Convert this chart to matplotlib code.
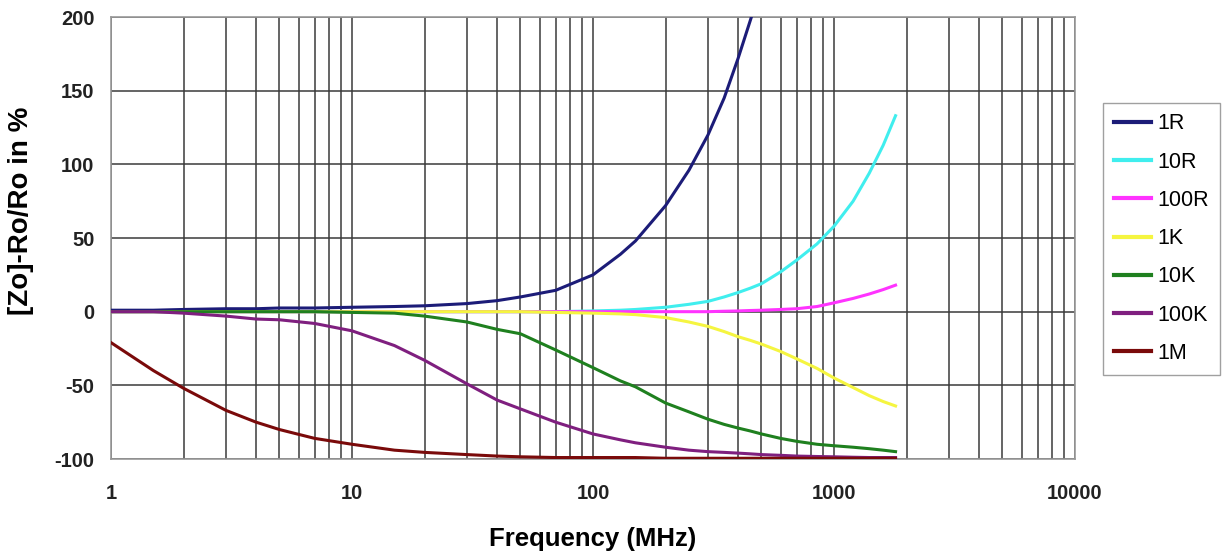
import matplotlib.pyplot as plt
import numpy as np
from matplotlib.ticker import FixedLocator, NullFormatter

plt.rcParams['font.family'] = ['Liberation Sans', 'DejaVu Sans']
plt.rcParams['axes.unicode_minus'] = False

# Frequency points (MHz) shared by every series
freq = [1, 1.5, 2, 3, 4, 5, 7, 10, 15, 20, 30, 40, 50, 70, 100, 130, 150, 200, 250,
        300, 350, 400, 450, 500, 600, 700, 850, 1000, 1200, 1400, 1600, 1800]

nan = np.nan
r_1R = [1, 1, 1.5, 2, 2, 2.5, 2.5, 3, 3.5, 4, 5.5, 7.5, 10, 14.5, 25, 39, 48, 72, 96,
        120, 145, 172, 198, 222, nan, nan, nan, nan, nan, nan, nan, nan]
r_10R = [0, 0, 0, 0, 0, 0, 0, 0, 0, 0, 0, 0, 0, 0, 0.5, 1, 1.5, 3, 5,
         7, 10, 13, 16, 19, 27, 35, 46, 58, 75, 94, 113, 133]
r_100R = [0, 0, 0, 0, 0, 0, 0, 0, 0, 0, 0, 0, 0, 0, 0, 0, 0, 0, 0,
          0, 0.3, 0.5, 0.8, 1, 1.5, 2, 3.5, 6, 9, 12, 15, 18]
r_1K = [0, 0, 0, 0, 0, 0, 0, 0, 0, 0, 0, 0, 0, -0.5, -1, -1.5, -2, -4, -7,
        -10, -13.5, -17, -19.5, -22, -27, -32, -38.5, -45, -51.5, -57, -61, -64]
r_10K = [0, 0, 0, 0, 0, 0, 0, -0.5, -1, -3, -7, -12, -15, -26, -38, -47, -51, -62, -68,
         -73, -76.5, -79, -81, -83, -86, -88, -90, -91, -92, -93, -94, -95]
r_100K = [0, 0, -1, -3, -5, -5.5, -8, -13, -23, -33, -49, -60, -66, -75, -83, -87, -89, -92, -94,
          -95, -95.5, -96, -96.5, -97, -97.5, -98, -98.3, -98.5, -98.8, -99, -99, -99]
r_1M = [-21, -40, -52, -67, -75, -80, -86, -90, -94, -95.5, -97, -98, -98.5, -99, -99, -99, -99, -99.5, -99.5,
        -99.5, -99.5, -99.5, -99.5, -99.5, -99.5, -99.5, -99.5, -99.5, -99.5, -99.5, -99.5, -99.5]

labels = ['1R', '10R', '100R', '1K', '10K', '100K', '1M']
colors = ['#1c1c78', '#40eeee', '#ff33ff', '#f5f540', '#1f801f', '#7f1f7f', '#7a0a0a']
series = [r_1R, r_10R, r_100R, r_1K, r_10K, r_100K, r_1M]

fig = plt.figure(figsize=(12.24, 5.58), dpi=100)
ax = fig.add_axes([0.0907, 0.1774, 0.7876, 0.7921])

for vals, lab, col in zip(series, labels, colors):
    ax.plot(freq, vals, color=col, linewidth=2.2, label=lab, zorder=3,
            solid_joinstyle='round')

ax.set_xscale('log')
ax.set_xlim(1, 10000)
ax.set_ylim(-100, 200)

# grid at every decade and every log minor step
minor = [m * 10 ** d for d in range(4) for m in range(2, 10)]
ax.xaxis.set_major_locator(FixedLocator([1, 10, 100, 1000, 10000]))
ax.xaxis.set_minor_locator(FixedLocator(minor))
ax.xaxis.set_minor_formatter(NullFormatter())
ax.set_xticklabels(['1', '10', '100', '1000', '10000'])
ax.set_yticks(np.arange(-100, 201, 50))

ax.grid(True, which='both', axis='x', color='#3a3a3a', linewidth=1.1, zorder=1)
ax.grid(True, which='major', axis='y', color='#3a3a3a', linewidth=1.1, zorder=1)
ax.tick_params(which='both', length=0, labelsize=14.5)
ax.tick_params(axis='x', pad=18)
ax.tick_params(axis='y', pad=12)
for lab in ax.get_xticklabels() + ax.get_yticklabels():
    lab.set_fontweight('bold')
    lab.set_color('#222222')

for sp in ax.spines.values():
    sp.set_color('#999999')
    sp.set_linewidth(1.2)

ax.set_xlabel('Frequency (MHz)', fontsize=18.5, fontweight='bold', labelpad=17)
ax.set_ylabel('[Zo]-Ro/Ro in %', fontsize=20, fontweight='bold')
ax.yaxis.set_label_coords(-0.080, 0.561)

leg = fig.legend(loc='upper left', bbox_to_anchor=(0.901, 0.816), fontsize=15.5,
                 frameon=True, fancybox=False, handlelength=1.75, handletextpad=0.3,
                 labelspacing=0.8, borderpad=0.5, borderaxespad=0)
leg.get_frame().set_edgecolor('#888888')
leg.get_frame().set_linewidth(1.0)
for line in leg.get_lines():
    line.set_linewidth(3)

fig.savefig('out.png', dpi=100)
